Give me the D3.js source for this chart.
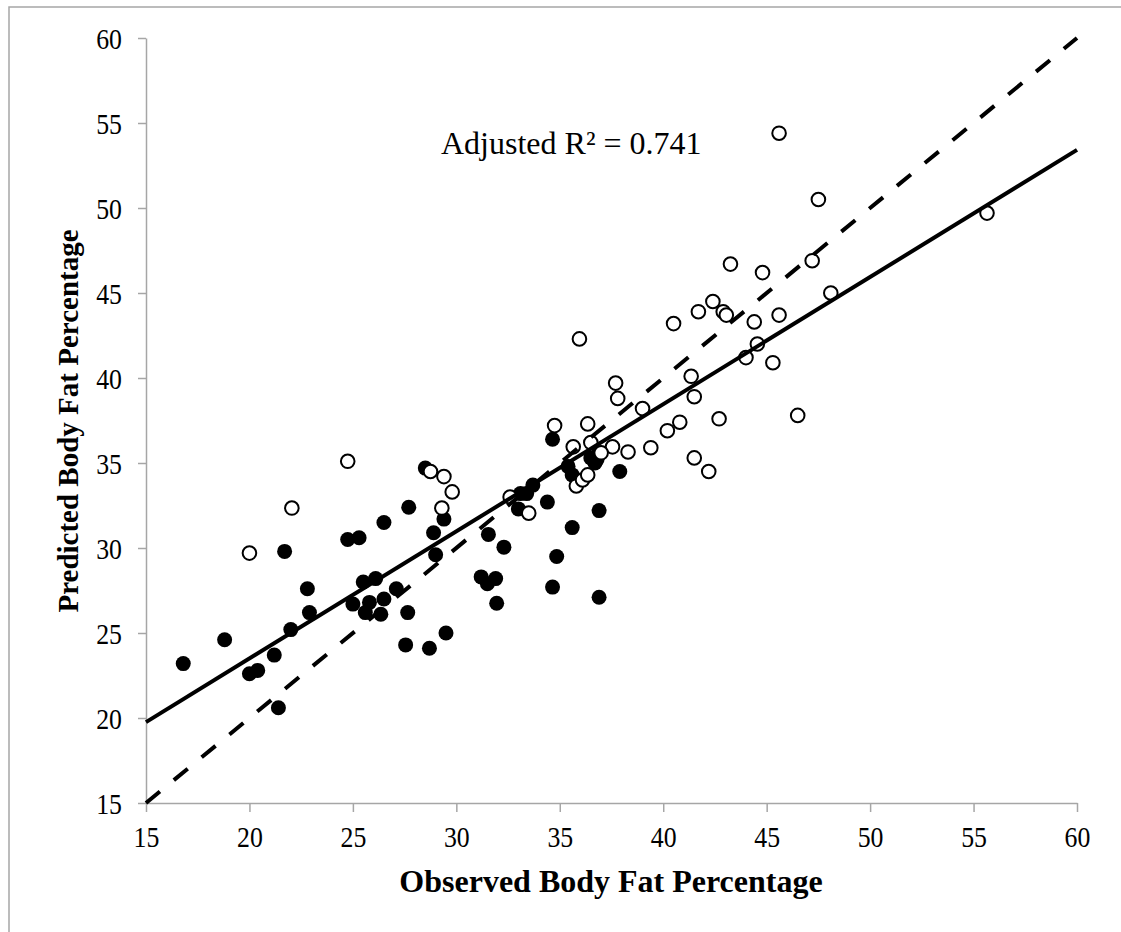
<!DOCTYPE html>
<html><head><meta charset="utf-8">
<script src="https://cdn.jsdelivr.net/npm/d3@7"></script>
<style>html,body{margin:0;padding:0;background:#fff;}</style>
</head><body>
<svg id="c" width="1121" height="932"></svg>
<script>
const filledX = [16.8,18.8,20.0,20.4,21.2,21.4,21.7,22.0,22.8,22.9,24.75,25.3,25.0,25.5,25.6,25.8,26.1,26.35,26.5,26.5,27.1,27.55,27.65,27.7,28.5,28.7,28.9,29.0,29.4,29.5,31.2,31.5,31.55,31.9,31.95,32.3,33.0,33.1,33.4,33.7,34.4,34.65,34.65,34.85,35.4,35.6,35.6,36.5,36.7,36.9,36.8,36.9,36.9,37.9];
const filledY = [23.2,24.6,22.6,22.8,23.7,20.6,29.8,25.2,27.6,26.2,30.5,30.6,26.7,28.0,26.2,26.8,28.2,26.1,31.5,27.0,27.6,24.3,26.2,32.4,34.7,24.1,30.9,29.6,31.7,25.0,28.3,27.9,30.8,28.2,26.75,30.05,32.3,33.2,33.2,33.7,32.7,36.4,27.7,29.5,34.8,34.3,31.2,35.3,35.0,35.6,35.2,32.2,27.1,34.5];
const openX = [20.0,22.05,24.75,28.75,29.4,29.8,29.3,32.6,33.5,34.75,35.65,35.8,35.95,36.1,36.35,36.35,36.5,37.55,37.7,37.8,38.3,39.0,39.4,40.2,40.5,40.8,41.35,41.5,41.5,41.7,42.2,42.4,42.7,42.9,43.05,43.25,44.0,44.4,44.55,44.8,45.3,45.6,45.6,46.5,47.2,47.5,48.1,55.65,37.0];
const openY = [29.7,32.35,35.1,34.5,34.2,33.3,32.35,33.0,32.05,37.2,35.95,33.65,42.3,34.0,34.3,37.3,36.2,35.95,39.7,38.8,35.65,38.2,35.9,36.9,43.2,37.4,40.1,38.9,35.3,43.9,34.5,44.5,37.6,43.9,43.7,46.7,41.2,43.3,42.0,46.2,40.9,43.7,54.4,37.8,46.9,50.5,45.0,49.7,35.6];
const xTicks = [15,20,25,30,35,40,45,50,55,60];
const yTicks = [15,20,25,30,35,40,45,50,55,60];
const fitSlope = 0.748, fitIntercept = 8.54;
const xTitle = "Observed Body Fat Percentage";
const yTitle = "Predicted Body Fat Percentage";
const annot = "Adjusted R\u00B2 = 0.741";

const svg = d3.select("#c");
const L = 146, R = 1077, T = 38, B = 803;
const x = d3.scaleLinear().domain([15,60]).range([L,R]);
const y = d3.scaleLinear().domain([15,60]).range([B,T]);
const gray = "#a6a6a6";
const font = "'Liberation Serif','Times New Roman',serif";

// outer frame
svg.append("rect").attr("x",9).attr("y",7).attr("width",1130).attr("height",940)
  .attr("fill","none").attr("stroke",gray).attr("stroke-width",1.5);

// axes
const xa = svg.append("g").attr("transform",`translate(0,${B})`)
  .call(d3.axisBottom(x).tickValues(xTicks).tickSize(9).tickPadding(10).tickSizeOuter(0));
const ya = svg.append("g").attr("transform",`translate(${L},0)`)
  .call(d3.axisLeft(y).tickValues(yTicks).tickSize(8).tickPadding(24).tickSizeOuter(0));
[xa,ya].forEach(g=>{
  g.select(".domain").attr("stroke",gray).attr("stroke-width",1.5);
  g.selectAll(".tick line").attr("stroke",gray).attr("stroke-width",1.5);
  g.selectAll(".tick text").attr("fill","#000").style("font-family",font).style("font-size","30px");
});
xa.selectAll(".tick text").attr("y",0).attr("dy",0).attr("transform","translate(0,44) scale(0.86,1)");
ya.selectAll(".tick text").attr("x",0).attr("dy","0.34em").attr("transform","translate(-24,0) scale(0.86,1)");

// markers
svg.append("g").selectAll("circle").data(filledX.map((v,i)=>[v,filledY[i]])).join("circle")
  .attr("cx",d=>x(d[0])).attr("cy",d=>y(d[1])).attr("r",7.5).attr("fill","#000");
svg.append("g").selectAll("circle").data(openX.map((v,i)=>[v,openY[i]])).join("circle")
  .attr("cx",d=>x(d[0])).attr("cy",d=>y(d[1])).attr("r",6.8).attr("fill","#fff")
  .attr("stroke","#000").attr("stroke-width",2);

// lines
const line = d3.line().x(d=>x(d[0])).y(d=>y(d[1]));
svg.append("path").datum([[15,15],[60,60]]).attr("d",line).attr("fill","none")
  .attr("stroke","#000").attr("stroke-width",4).attr("stroke-dasharray","18,18");
svg.append("path").datum([[15,fitIntercept+fitSlope*15],[60,fitIntercept+fitSlope*60]]).attr("d",line)
  .attr("fill","none").attr("stroke","#000").attr("stroke-width",4);

// annotation
svg.append("text").attr("x",441).attr("y",154).text(annot)
  .style("font-family",font).style("font-size","32px");

// titles
svg.append("text").attr("x",611).attr("y",892).attr("text-anchor","middle").text(xTitle)
  .style("font-family",font).style("font-size","32px").style("font-weight","bold");
svg.append("text").attr("transform",`translate(78,421) rotate(-90)`).attr("text-anchor","middle").text(yTitle)
  .style("font-family",font).style("font-size","29px").style("font-weight","bold");
</script>
</body></html>
